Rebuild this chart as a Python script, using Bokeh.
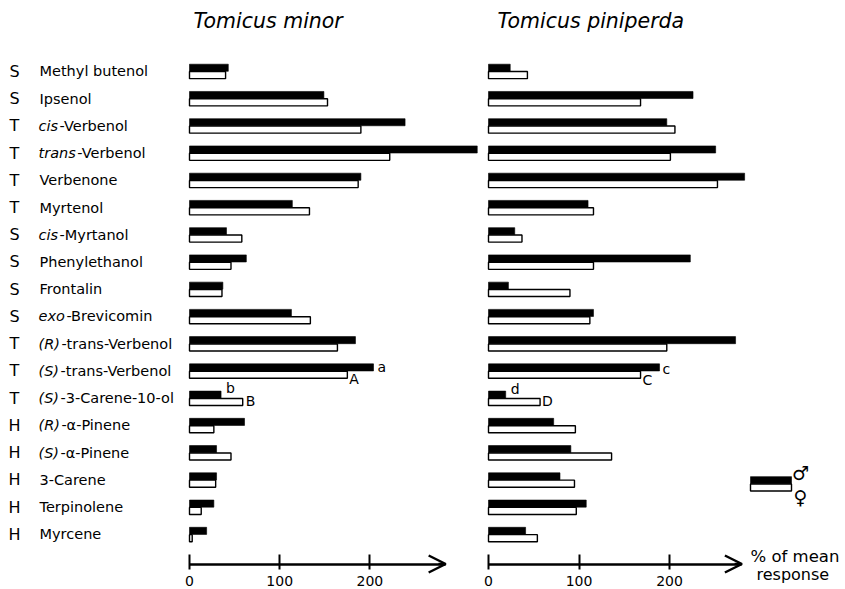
from bokeh.plotting import figure
from bokeh.layouts import row
from bokeh.models import Range1d, FixedTicker, Arrow, OpenHead, Label, ColumnDataSource
from bokeh.core.properties import value
from bokeh.embed import file_html
from bokeh.resources import INLINE

# ---------------- data ----------------
classes = ["S", "S", "T", "T", "T", "T", "S", "S", "S", "S",
           "T", "T", "T", "H", "H", "H", "H", "H"]
name_prefix = ["", "", "cis", "trans", "", "", "cis", "", "", "exo",
               "(R)", "(S)", "(S)", "(R)", "(S)", "", "", ""]
name_rest = ["Methyl butenol", "Ipsenol", "-Verbenol", "-Verbenol", "Verbenone",
             "Myrtenol", "-Myrtanol", "Phenylethanol", "Frontalin", " -Brevicomin",
             "-trans-Verbenol", "-trans-Verbenol", "-3-Carene-10-ol",
             "-\u03b1-Pinene", "-\u03b1-Pinene", "3-Carene", "Terpinolene", "Myrcene"]
minor_male = [43, 149, 239, 319, 190, 114, 41, 63, 37, 113, 184, 204, 35, 61, 30, 30, 27, 19]
minor_female = [40, 153, 190, 222, 187, 133, 58, 46, 36, 134, 164, 175, 59, 27, 46, 29, 13, 3]
pini_male = [24, 226, 197, 251, 283, 110, 29, 223, 22, 116, 273, 189, 19, 72, 91, 79, 108, 41]
pini_female = [43, 168, 206, 201, 253, 116, 37, 116, 90, 112, 197, 168, 57, 96, 136, 95, 97, 54]
tick_values = [0, 100, 200]
titles = ["Tomicus minor", "Tomicus piniperda"]
# significance letters: (letter, row index, bar: "m" male / "f" female)
minor_notes = [("a", 11, "m"), ("A", 11, "f"), ("b", 12, "m"), ("B", 12, "f")]
pini_notes = [("c", 11, "m"), ("C", 11, "f"), ("d", 12, "m"), ("D", 12, "f")]
legend_symbols = ["\u2642", "\u2640"]
axis_caption = ["% of mean", "response"]

# ---------------- layout helpers ----------------
H = 588
ROW_PX = 27.24
Y_TOP = -70.8 / ROW_PX
Y_BOT = Y_TOP + H / ROW_PX
AXIS_Y = Y_TOP + 563.5 / ROW_PX
rows = list(range(len(classes)))
FONT = "DejaVu Sans"

# DejaVu advance widths (em) for the italic prefixes
adv = {"c": 0.550, "i": 0.278, "s": 0.521, "t": 0.392, "r": 0.411, "a": 0.613,
       "n": 0.634, "e": 0.615, "x": 0.592, "o": 0.612, "(": 0.390, ")": 0.390,
       "R": 0.695, "S": 0.635}


def base_fig(width, xr, **kw):
    p = figure(width=width, height=H, x_range=xr, y_range=Range1d(Y_BOT, Y_TOP),
               toolbar_location=None, output_backend="svg",
               min_border_left=0, min_border_right=0, min_border_top=0,
               min_border_bottom=0, y_axis_location=None, **kw)
    p.grid.visible = False
    p.outline_line_color = None
    p.background_fill_color = "white"
    p.border_fill_color = "white"
    return p


# ---------------- label column ----------------
lab = base_fig(183, Range1d(0, 183), x_axis_location=None)

LS = 14.5
lab.text(x=[14] * len(rows), y=rows, text=classes, text_font=value(FONT),
         text_font_size="16px", text_align="center", text_baseline="middle", text_color="black")
x0 = 38
pre_x, pre_y, pre_t, rest_x = [], [], [], []
for i, (pf, rs) in enumerate(zip(name_prefix, name_rest)):
    w = sum(adv.get(ch, 0.6) for ch in pf) * LS
    if pf:
        pre_x.append(x0)
        pre_y.append(i)
        pre_t.append(pf)
        rest_x.append(x0 + w + 1.5)
    else:
        rest_x.append(x0 + 1)
lab.text(x=pre_x, y=pre_y, text=pre_t, text_font=value(FONT), text_font_style="italic",
         text_font_size=f"{LS}px", text_align="left", text_baseline="middle", text_color="black")
lab.text(x=rest_x, y=rows, text=name_rest, text_font=value(FONT),
         text_font_size=f"{LS}px", text_align="left", text_baseline="middle", text_color="black")


# ---------------- panels ----------------
def panel(width, zero_px, scale, bound, male, female, title, title_px, notes, note_style):
    start = -zero_px / scale
    p = base_fig(width, Range1d(start, start + width / scale))
    src = ColumnDataSource(dict(ym=[r - 0.13 for r in rows], yf=[r + 0.14 for r in rows],
                                male=male, female=female))
    p.hbar(y="ym", left=0, right="male", height=0.26, source=src,
           fill_color="black", line_color="black", line_width=0.6)
    p.hbar(y="yf", left=0, right="female", height=0.26, source=src,
           fill_color="white", line_color="black", line_width=1.4)
    ax = p.xaxis[0]
    ax.fixed_location = AXIS_Y
    ax.ticker = FixedTicker(ticks=tick_values)
    ax.bounds = (0, bound)
    ax.axis_line_width = 2.5
    ax.axis_line_color = "black"
    ax.major_tick_line_width = 2
    ax.major_tick_line_color = "black"
    ax.major_tick_in = 10
    ax.major_tick_out = 5
    ax.minor_tick_line_color = None
    ax.major_label_text_font = FONT
    ax.major_label_text_font_size = "14px"
    ax.major_label_text_color = "black"
    ax.major_label_standoff = 7
    p.add_layout(Arrow(end=OpenHead(size=17, line_width=2.5, line_color="black"),
                       x_start=bound - 8, y_start=AXIS_Y, x_end=bound, y_end=AXIS_Y,
                       line_width=2.5, line_color="black"))
    p.text(x=[title_px / scale], y=[Y_TOP + 20 / ROW_PX], text=[title], text_font=value(FONT),
           text_font_style="italic", text_font_size="20.5px", text_align="left",
           text_baseline="middle", text_color="black")
    nx, ny, nt, ndx = [], [], [], []
    for letter, r, bar in notes:
        dy, dx = note_style[letter]
        nx.append(male[r] if bar == "m" else female[r])
        ny.append(r + dy)
        nt.append(letter)
        ndx.append(dx)
    p.text(x=nx, y=ny, text=nt, x_offset=ndx, text_font=value(FONT), text_font_size="14px",
           text_align="left", text_baseline="middle", text_color="black")
    return p, scale


note_style_minor = {"a": (-0.14, 4), "A": (0.30, 2), "b": (-0.36, 5), "B": (0.12, 3)}
note_style_pini = {"c": (-0.08, 3), "C": (0.32, 2), "d": (-0.34, 5), "D": (0.12, 2)}

pB, sB = panel(300, 6, 0.902, 284, minor_male, minor_female, titles[0], 4,
               minor_notes, note_style_minor)
pC, sC = panel(362, 5, 0.905, 280, pini_male, pini_female, titles[1], 9,
               pini_notes, note_style_pini)

# legend
lx0, lx1 = 262 / sC, 303 / sC
lrow = 15.14
pC.hbar(y=[lrow - 0.13], left=[lx0], right=[lx1], height=0.26,
        fill_color="black", line_color="black", line_width=0.6)
pC.hbar(y=[lrow + 0.14], left=[lx0], right=[lx1], height=0.26,
        fill_color="white", line_color="black", line_width=1.4)
pC.text(x=[312 / sC, 312 / sC], y=[lrow - 0.38, lrow + 0.47], text=legend_symbols,
        text_font=value(FONT), text_font_size="19px", text_align="center",
        text_baseline="middle", text_color="black")
pC.add_layout(Label(x=262 / sC, y=AXIS_Y - 8 / ROW_PX, text=axis_caption[0],
                    text_font=FONT, text_font_size="16.5px", text_align="left",
                    text_baseline="middle", text_color="black"))
pC.add_layout(Label(x=268 / sC, y=AXIS_Y + 10 / ROW_PX, text=axis_caption[1],
                    text_font=FONT, text_font_size="16px", text_align="left",
                    text_baseline="middle", text_color="black"))

layout = row(lab, pB, pC)
open("out.html", "w").write(file_html(layout, INLINE))
